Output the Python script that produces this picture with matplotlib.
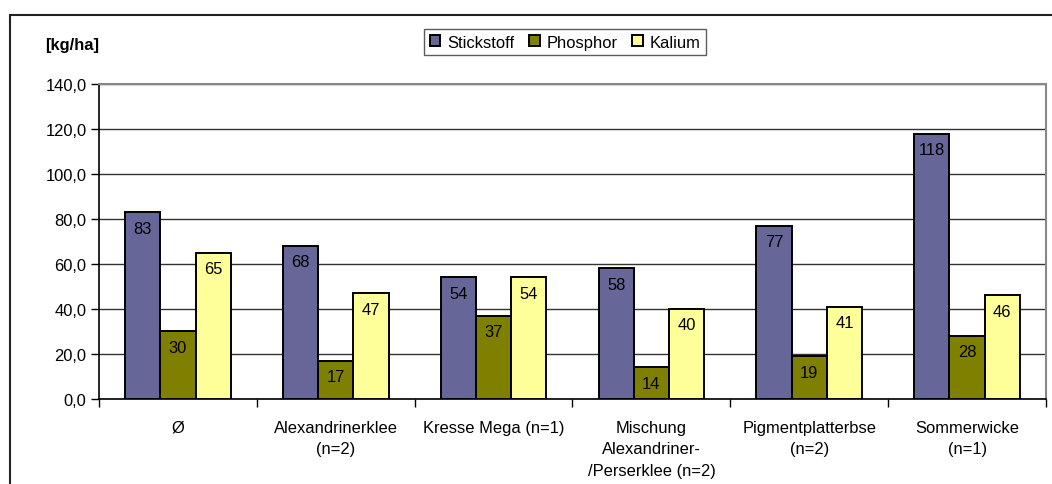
import numpy as np
import matplotlib.pyplot as plt
from matplotlib.ticker import FuncFormatter, FixedLocator
from matplotlib.patches import Rectangle

plt.rcParams['font.family'] = ['Liberation Sans', 'DejaVu Sans']

categories = ['Ø', 'Alexandrinerklee\n(n=2)', 'Kresse Mega (n=1)',
              'Mischung\nAlexandriner-\n/Perserklee (n=2)', 'Pigmentplatterbse\n(n=2)',
              'Sommerwicke\n(n=1)']
series = ['Stickstoff', 'Phosphor', 'Kalium']
stickstoff = [83, 68, 54, 58, 77, 118]
phosphor = [30, 17, 37, 14, 19, 28]
kalium = [65, 47, 54, 40, 41, 46]
colors = ['#666699', '#808000', '#FFFF99']

fs = 11.9
fig = plt.figure(figsize=(10.52, 4.85), dpi=100)
ax = fig.add_axes([0.0941, 0.1753, 0.9002, 0.6494])

x = np.arange(len(categories))
w = 0.223
for i, (vals, name) in enumerate(zip([stickstoff, phosphor, kalium], series)):
    bars = ax.bar(x + (i - 1) * w, vals, w, color=colors[i], edgecolor='black',
                  linewidth=1.4, label=name, zorder=3)
    for b, v in zip(bars, vals):
        ax.annotate('%d' % v, (b.get_x() + b.get_width() / 2, v), xytext=(0, -6),
                    textcoords='offset points', ha='center', va='top', fontsize=fs, zorder=4)

ax.set_xlim(-0.5, len(categories) - 0.5)
ax.set_ylim(0, 140)
ax.set_yticks(np.arange(0, 141, 20))
ax.yaxis.set_major_formatter(FuncFormatter(lambda v, p: ('%.1f' % v).replace('.', ',')))
ax.grid(axis='y', color='#333333', linewidth=1, zorder=0)
ax.set_xticks(x)
ax.set_xticklabels(categories, fontsize=fs, linespacing=1.55)
ax.xaxis.set_minor_locator(FixedLocator(np.arange(-0.5, len(categories), 1)))
ax.tick_params(axis='x', which='major', length=0, pad=15)
ax.tick_params(axis='x', which='minor', length=6, width=1, direction='out')
ax.tick_params(axis='y', length=6, width=1, labelsize=fs, pad=3)
ax.spines['left'].set_linewidth(1.2)
ax.spines['bottom'].set_linewidth(1.2)
for s in ['top', 'right']:
    ax.spines[s].set_color('#888888')
    ax.spines[s].set_linewidth(1.5)

fig.text(0.043, 0.907, '[kg/ha]', fontsize=fs, fontweight='bold', ha='left', va='center')

leg = fig.legend(loc='center', bbox_to_anchor=(0.537, 0.911), ncol=3, fontsize=fs,
                 frameon=True, fancybox=False, edgecolor='#333333', handlelength=0.65,
                 handleheight=0.65, handletextpad=0.4, columnspacing=0.9,
                 borderpad=0.35)
leg.get_frame().set_linewidth(1)

fig.patches.append(Rectangle((10 / 1052, -0.05), 1.2, 1.05 - 16 / 485,
                             transform=fig.transFigure, fill=False,
                             edgecolor='#222222', linewidth=1.5))

fig.savefig('out.png', dpi=100)
